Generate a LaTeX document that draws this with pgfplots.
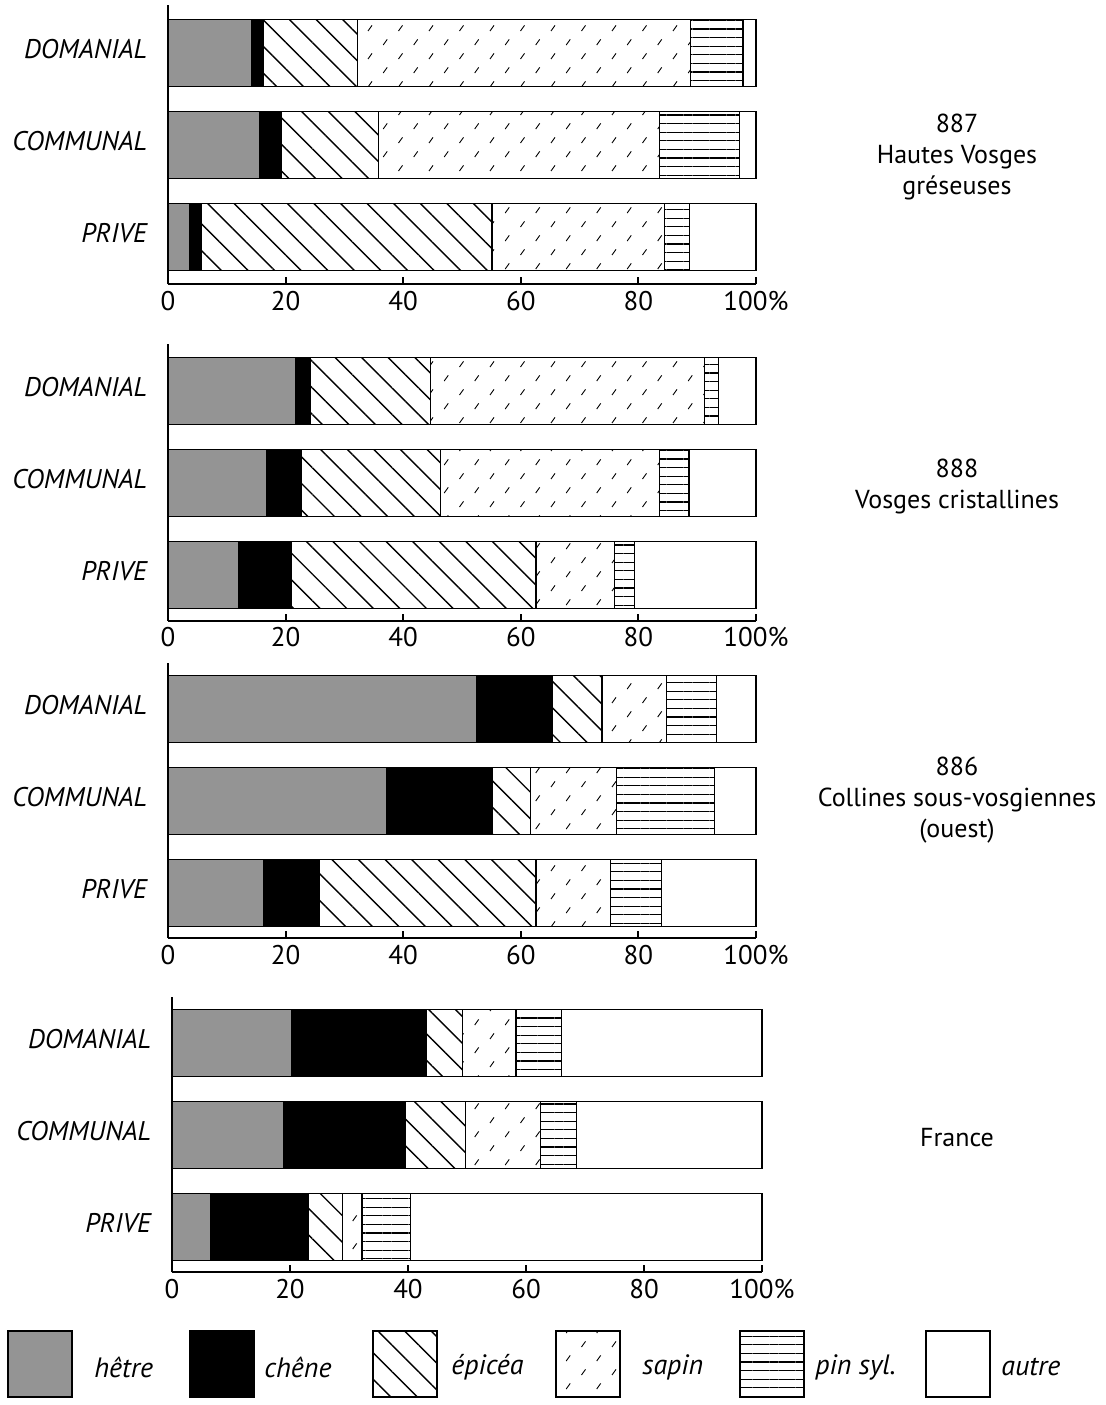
\documentclass[border=0pt]{standalone}
\usepackage{pgfplots}
\pgfplotsset{compat=1.18}
\usepackage{pgfplotstable}
\usetikzlibrary{patterns,patterns.meta}
\usepackage{fontspec}
\setmainfont{PT Sans}

% short slashes in a staggered grid (sapin)
\tikzdeclarepattern{
  name=sapindash,
  type=uncolored,
  bounding box={(-1pt,-1pt) and (16.25pt,15pt)},
  tile size={(15.25pt,14pt)},
  code={
    \draw[line width=0.45pt] (1pt,1pt) -- (3pt,3.8pt);
    \draw[line width=0.45pt] (8.6pt,8pt) -- (10.6pt,10.8pt);
  }
}

\tikzset{
  s hetre/.style={fill=black!42},
  s chene/.style={fill=black},
  s epicea/.style={pattern={Lines[angle=-45,distance=9.4pt,line width=0.7pt]},pattern color=black},
  s sapin/.style={pattern=sapindash,pattern color=black},
  s pin/.style={pattern={Lines[angle=0,distance=4.3pt,line width=0.6pt]},pattern color=black},
  s autre/.style={fill=white},
}

% y: 2 = DOMANIAL, 1 = COMMUNAL, 0 = PRIVE
\pgfplotstableread{
y hetre chene epicea sapin pin autre
2 14.3 1.9 16.0 56.7 8.9 2.2
1 15.6 3.7 16.5 47.8 13.6 2.8
0 3.7 2.0 49.4 29.4 4.2 11.3
}\tabA
\pgfplotstableread{
y hetre chene epicea sapin pin autre
2 21.7 2.6 20.4 46.5 2.4 6.4
1 16.7 6.0 23.7 37.2 5.0 11.4
0 12.0 9.0 41.6 13.4 3.4 20.6
}\tabB
\pgfplotstableread{
y hetre chene epicea sapin pin autre
2 52.5 12.8 8.5 11.0 8.5 6.7
1 37.1 18.0 6.5 14.7 16.6 7.1
0 16.3 9.4 36.9 12.7 8.6 16.1
}\tabC
\pgfplotstableread{
y hetre chene epicea sapin pin autre
2 20.3 22.8 6.2 9.0 7.7 34.0
1 18.9 20.6 10.2 12.8 6.0 31.5
0 6.6 16.5 5.8 3.3 8.2 59.6
}\tabD

\pgfplotsset{
  panel/.style={
    xbar stacked, scale only axis, width=294pt,
    xmin=0, xmax=100, enlargelimits=false, clip=false,
    axis x line*=bottom, axis y line*=left,
    axis line style={line width=1pt,-},
    xtick={0,20,40,60,80,100}, xticklabels={0,20,40,60,80,100\%},
    ytick={0,1,2}, yticklabels={PRIVE,COMMUNAL,DOMANIAL},
    tick align=inside, major tick length=3.5pt,
    xtick style={line width=1pt,black},
    ytick style={draw=none},
    yticklabel style={font=\fontsize{13.5}{15}\selectfont\itshape, xshift=-7pt, yshift=2pt},
    xticklabel style={font=\fontsize{13.5}{15}\selectfont},
    bar width=0.73,
  },
}

\newcommand{\bars}[1]{%
  \addplot[draw=black, line width=0.6pt, s hetre] table[x=hetre, y=y] {#1};
  \addplot[draw=black, line width=0.6pt, s chene] table[x=chene, y=y] {#1};
  \addplot[draw=black, line width=0.6pt, s epicea] table[x=epicea, y=y] {#1};
  \addplot[draw=black, line width=0.6pt, s sapin] table[x=sapin, y=y] {#1};
  \addplot[draw=black, line width=0.6pt, s pin] table[x=pin, y=y] {#1};
  \addplot[draw=black, line width=0.6pt, s autre] table[x=autre, y=y] {#1};
}

\begin{document}
\begin{tikzpicture}
\path[use as bounding box] (0,0) rectangle (553pt,-702.5pt);

\begin{axis}[panel, at={(84pt,-142pt)}, anchor=south west,
  height=139.5pt, ymin=-0.51, ymax=2.52]
\bars{\tabA}
\end{axis}

\begin{axis}[panel, at={(84pt,-310.25pt)}, anchor=south west,
  height=138.25pt, ymin=-0.495, ymax=2.51]
\bars{\tabB}
\end{axis}

\begin{axis}[panel, at={(84pt,-469pt)}, anchor=south west,
  height=137.5pt, ymin=-0.49, ymax=2.5]
\bars{\tabC}
\end{axis}

\begin{axis}[panel, at={(86pt,-636pt)}, anchor=south west,
  width=295pt, height=137.5pt, ymin=-0.49, ymax=2.5]
\bars{\tabD}
\end{axis}

% region names
\begin{scope}[every node/.style={align=center, font=\fontsize{13}{15.5}\selectfont}]
\node at (478.5pt,-78.5pt) {887\\Hautes Vosges\\gréseuses};
\node at (478.5pt,-243.25pt) {888\\Vosges cristallines};
\node at (478.5pt,-400pt) {886\\Collines sous-vosgiennes\\(ouest)};
\node at (478.5pt,-569pt) {France};
\end{scope}

% legend
\begin{scope}[line width=0.6pt]
\draw[s hetre]  (4pt,-665.5pt) rectangle (36pt,-698.5pt);
\draw[s chene]  (95pt,-665.5pt) rectangle (127pt,-698.5pt);
\draw[s epicea] (186.5pt,-665.5pt) rectangle (218.5pt,-698.5pt);
\draw[s sapin]  (278pt,-665.5pt) rectangle (310pt,-698.5pt);
\draw[s pin]    (370pt,-665.5pt) rectangle (402pt,-698.5pt);
\draw[s autre]  (463pt,-665.5pt) rectangle (495pt,-698.5pt);
\end{scope}
\begin{scope}[every node/.style={anchor=west, inner sep=0pt, font=\fontsize{14}{16}\selectfont\itshape}]
\node at (47pt,-683.5pt) {hêtre};
\node at (132pt,-683.5pt) {chêne};
\node at (225.5pt,-683.5pt) {épicéa};
\node at (321pt,-683.5pt) {sapin};
\node at (407.5pt,-683.5pt) {pin syl.};
\node at (500.5pt,-683.5pt) {autre};
\end{scope}
\end{tikzpicture}
\end{document}
